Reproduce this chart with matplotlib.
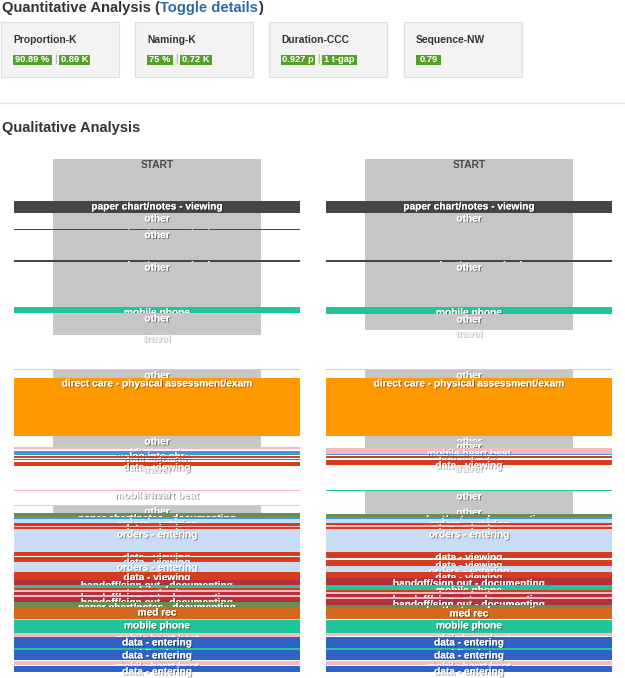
import matplotlib
matplotlib.use("Agg")
import matplotlib.pyplot as plt
import matplotlib.patheffects as pe
from matplotlib.patches import Rectangle

plt.rcParams['font.family'] = ['Liberation Sans', 'DejaVu Sans']

# ---------------- data ----------------
metric_names = ["Proportion-K", "Naming-K", "Duration-CCC", "Sequence-NW"]
metric_badges = [["90.89 %", "0.89 K"], ["75 %", "0.72 K"], ["0.927 p", "1 t-gap"], ["0.79"]]

left_labels = [
    "START", "paper chart/notes - viewing", "other", "paper chart/notes - viewing", "other",
    "paper chart/notes - viewing", "other", "mobile phone", "other", "travel",
    "mobile heart beat", "other", "direct care - physical assessment/exam", "other",
    "mobile heart beat", "log into ehr", "data - viewing", "data - viewing", "data - viewing",
    "travel", "mobile heart beat", "travel", "mobile heart beat", "other",
    "paper chart/notes - documenting", "log into ehr", "orders - entering", "data - viewing",
    "mobile heart beat", "data - viewing", "orders - entering", "data - viewing", "data - viewing",
    "orders - entering", "data - viewing", "handoff/sign out - documenting", "mobile phone",
    "data - viewing", "mobile heart beat", "handoff/sign out - documenting", "mobile heart beat",
    "handoff/sign out - documenting", "paper chart/notes - documenting", "med rec",
    "mobile heart beat", "mobile phone", "mobile heart beat", "data - entering", "mobile phone",
    "data - entering", "mobile heart beat", "data - entering",
]
left_start = [0, 42, 54, 69.5, 70.5, 101, 103, 148, 154, 176,
              210, 211, 219, 277,
              288, 292, 297, 300, 303,
              307, 331, 332, 346, 347,
              354, 358, 360, 364,
              367, 368, 370, 393, 398,
              403, 413, 421, 426,
              429, 431, 433, 436,
              438, 443, 448,
              460, 461, 474, 478, 489,
              491, 502, 507]
left_end = [42, 54, 69.5, 70.5, 101, 103, 148, 154, 176, 210,
            211, 219, 277, 288,
            290, 296, 299, 301, 307,
            331, 332, 346, 347, 354,
            358, 360, 364, 367,
            368, 370, 393, 397, 403,
            413, 421, 426, 429,
            431, 433, 436, 438,
            443, 448, 460,
            461, 474, 478, 489, 491,
            501, 506, 513]

right_labels = [
    "START", "paper chart/notes - viewing", "other", "paper chart/notes - viewing", "other",
    "mobile phone", "other", "travel", "mobile heart beat", "other",
    "direct care - physical assessment/exam", "other", "other", "mobile heart beat",
    "log into ehr", "data - viewing", "data - viewing", "travel", "mobile phone", "other",
    "other", "paper chart/notes - documenting", "log into ehr", "orders - entering",
    "data - viewing", "mobile heart beat", "data - viewing", "orders - entering",
    "data - viewing", "data - viewing", "orders - entering", "data - viewing",
    "handoff/sign out - documenting", "mobile phone", "data - viewing", "mobile heart beat",
    "handoff/sign out - documenting", "mobile heart beat", "handoff/sign out - documenting",
    "paper chart/notes - documenting", "med rec", "mobile phone", "mobile heart beat",
    "data - entering", "mobile phone", "data - entering", "mobile heart beat", "data - entering",
]
right_start = [0, 42, 54, 101, 103,
               148, 155, 171, 210, 211,
               219, 277, 282, 289,
               295, 297, 301, 306, 331, 332,
               348, 355, 358, 360,
               364, 366, 368, 370,
               393, 401, 407, 413,
               419, 426, 431, 433,
               435, 438, 440,
               446, 449, 461, 474,
               478, 489, 491, 502, 507]
right_end = [42, 54, 101, 103, 148,
             155, 171, 210, 211, 219,
             277, 282, 289, 295,
             296, 299, 306, 331, 331.6, 348,
             355, 358, 360, 364,
             366, 368, 370, 393,
             399, 407, 413, 419,
             426, 431, 433, 435,
             438, 440, 446,
             449, 460, 474, 477,
             489, 491, 501, 506, 513]

# ---------------- style ----------------
colors = {
    "START": "#c6c6c6", "other": "#c6c6c6", "travel": "none",
    "paper chart/notes - viewing": "#454541",
    "mobile phone": "#22c49c",
    "direct care - physical assessment/exam": "#ff9900",
    "mobile heart beat": "#f6b8c1",
    "log into ehr": "#3f9ad8",
    "data - viewing": "#d73c1f",
    "paper chart/notes - documenting": "#6b8e4e",
    "orders - entering": "#c9dcf5",
    "handoff/sign out - documenting": "#b3303c",
    "med rec": "#d2691e",
    "data - entering": "#3062c8",
}
narrow = {"START", "other"}

W, H = 625, 678
fig = plt.figure(figsize=(W / 100, H / 100), dpi=100)
fig.patch.set_facecolor("white")

# background axes in pixel coordinates for header
bg = fig.add_axes([0, 0, 1, 1])
bg.set_xlim(0, W)
bg.set_ylim(H, 0)
bg.axis("off")

renderer = fig.canvas.get_renderer()


def seq_text(ax, x, y, parts, **kw):
    for txt, col in parts:
        t = ax.text(x, y, txt, color=col, va="center", ha="left", **kw)
        bb = t.get_window_extent(renderer)
        x += bb.width


seq_text(bg, 2, 8, [("Quantitative Analysis (", "#333333"), ("Toggle details", "#2a6aa8"),
                    (")", "#333333")], fontsize=10.6, fontweight="bold")

box_x = [1, 135, 269, 404]
badge_w = {"90.89 %": 39, "0.89 K": 31, "75 %": 26, "0.72 K": 32, "0.927 p": 34,
           "1 t-gap": 35, "0.79": 25}
for bx, name, badges in zip(box_x, metric_names, metric_badges):
    bg.add_patch(Rectangle((bx, 22), 118, 55, facecolor="#f3f3f3", edgecolor="#dedede", lw=0.8))
    bg.text(bx + 12, 40, name, fontsize=7.4, fontweight="bold", color="#333333",
            va="center", ha="left")
    xx = bx + 12
    for i, b in enumerate(badges):
        if i > 0:
            bg.text(xx + 3.5, 59.5, "|", fontsize=7, color="#999999", va="center", ha="center")
            xx += 7
        w = badge_w[b]
        bg.add_patch(Rectangle((xx, 54.5), w, 10, facecolor="#55a12a", edgecolor="none"))
        bg.text(xx + w / 2, 59.6, b, fontsize=6.7, fontweight="bold", color="white",
                va="center", ha="center")
        xx += w

bg.plot([0, W], [102.5, 102.5], color="#e3e3e3", lw=1)
bg.text(2, 128, "Qualitative Analysis", fontsize=10.5, fontweight="bold", color="#333333",
        va="center", ha="left")

shadow = [pe.withSimplePatchShadow(offset=(0.7, -0.7), shadow_rgbFace="#000000", alpha=0.45),
          pe.Normal()]
light_shadow = [pe.withSimplePatchShadow(offset=(0.6, -0.6), shadow_rgbFace="#888888", alpha=0.6),
                pe.Normal()]


def timeline(x0, x1, labels, starts, ends):
    top = 159
    ax = fig.add_axes([x0 / W, 0, (x1 - x0) / W, (H - top) / H])
    ax.set_xlim(0, 1)
    ax.set_ylim(H - top, 0)
    ax.axis("off")
    gl = 39 / 286
    gw = 208 / 286
    for i, (lab, s, e) in enumerate(zip(labels, starts, ends)):
        if lab in narrow:
            ax.bar(gl, e - s, bottom=s, width=gw, align="edge", color=colors[lab],
                   linewidth=0, zorder=2 * i + 1)
        else:
            ax.bar(0, e - s, bottom=s, width=1, align="edge", color=colors[lab],
                   linewidth=0, zorder=2 * i + 1)
        if lab == "START":
            ax.text(0.5, s + 0.5, lab, ha="center", va="top", fontsize=7.3, fontweight="bold",
                    color="#4a4a4a", zorder=2 * i + 2)
        elif lab == "travel":
            ax.text(0.5, s - 1, lab, ha="center", va="top", fontsize=7.3, fontweight="bold",
                    color="#eeeeee", zorder=2 * i + 2, path_effects=light_shadow)
        else:
            ax.text(0.5, s + 0.5, lab, ha="center", va="top", fontsize=7.3, fontweight="bold",
                    color="white", zorder=2 * i + 2, path_effects=shadow)
    return ax


timeline(14, 300, left_labels, left_start, left_end)
timeline(326, 612, right_labels, right_start, right_end)

fig.savefig("out.png", dpi=100, facecolor="white")
